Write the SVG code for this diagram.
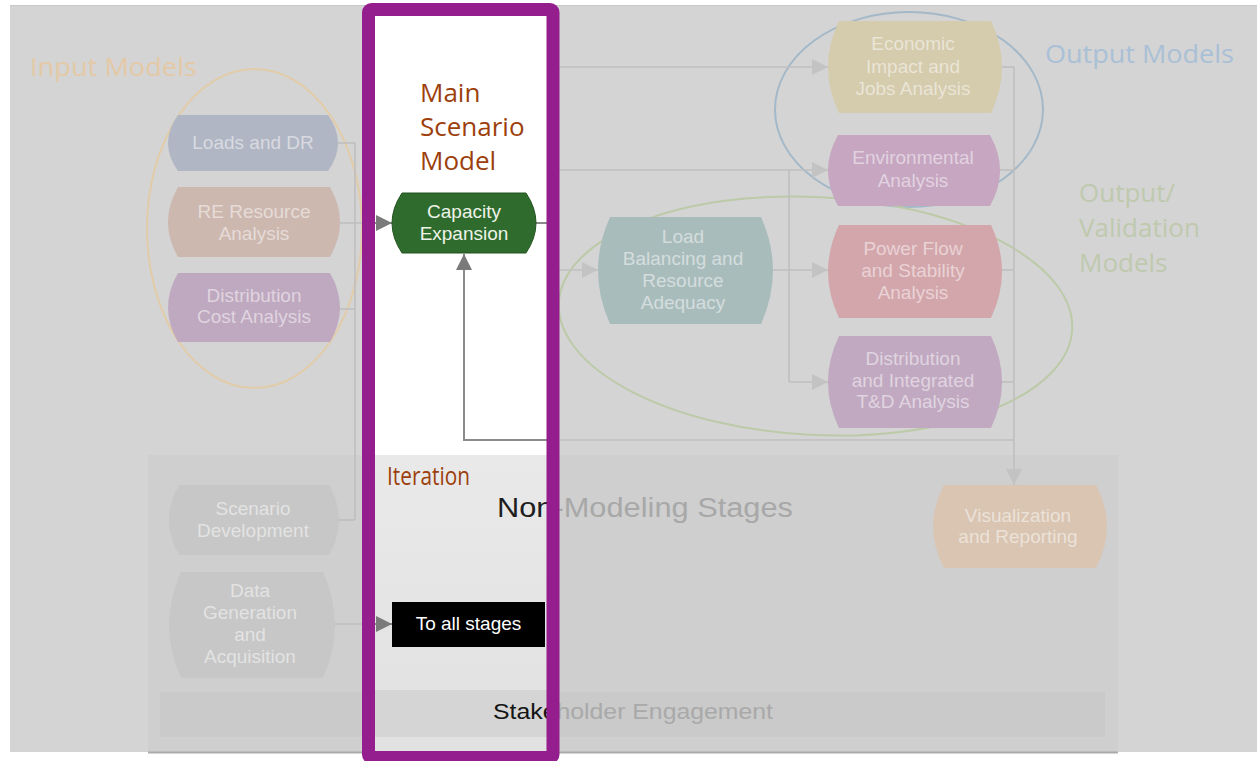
<svg xmlns="http://www.w3.org/2000/svg" width="1257" height="761" viewBox="0 0 1257 761">
<style>
.nt{font-family:"Liberation Sans",Arial,sans-serif;font-size:19px;text-anchor:middle}
.dimt{fill:#ffffff;fill-opacity:0.5}
.tt{font-family:"Open Sans","Noto Sans",sans-serif;font-size:26px}
.dl{fill:none;stroke:#bfbfbf;stroke-width:1.6}
.bl{fill:none;stroke:#8a8a8a;stroke-width:2}
.ell{fill:none;stroke-width:2}
.big{font-family:"Liberation Sans",Arial,sans-serif}
</style>
<defs>
<marker id="arr-dim" viewBox="0 0 16 16" refX="16" refY="8" markerWidth="16" markerHeight="16" markerUnits="userSpaceOnUse" orient="auto"><path d="M0,0 L16,8 L0,16 Z" fill="#c3c3c3"/></marker>
<marker id="arr-dark" viewBox="0 0 16 16" refX="16" refY="8" markerWidth="16" markerHeight="16" markerUnits="userSpaceOnUse" orient="auto"><path d="M0,0 L16,8 L0,16 Z" fill="#7a7a7a"/></marker>
<clipPath id="strip"><rect x="375" y="16" width="172" height="736"/></clipPath>
<linearGradient id="stripgray" x1="0" y1="0" x2="0" y2="1"><stop offset="0" stop-color="#e9e9e9"/><stop offset="1" stop-color="#e1e1e1"/></linearGradient>
</defs>

<!-- page and dimmed panel -->
<rect x="0" y="0" width="1257" height="761" fill="#ffffff"/>
<rect x="10" y="5" width="1247" height="747" fill="#d4d4d4"/>
<line x1="10" y1="5.5" x2="1257" y2="5.5" stroke="#c9c9c9" stroke-width="1"/>
<g id="non-modeling-panel">
<rect x="148" y="455" width="970" height="297" fill="#cfcfcf"/>
<rect x="160" y="692" width="945" height="45" fill="#cacaca"/>
<line x1="148" y1="752.5" x2="1118" y2="752.5" stroke="#ababab" stroke-width="2"/>
</g>

<!-- group ellipses -->
<g id="groups">
<ellipse cx="254.5" cy="228.5" rx="107.5" ry="159.5" class="ell" stroke="#e2cca8"/>
<ellipse cx="909" cy="109.5" rx="134" ry="97.5" class="ell" stroke="#a3b8c8"/>
<ellipse cx="815.5" cy="316" rx="257" ry="119" class="ell" stroke="#bccaa8" transform="rotate(3 815.5 316)"/>
</g>

<!-- dimmed connectors -->
<g id="connectors" class="dl">
<path d="M338,143 H355"/>
<path d="M340,223 H355"/>
<path d="M340,309 H355"/>
<path d="M339,520 H355"/>
<path d="M355,143 V520"/>
<path d="M355,223 H392" marker-end="url(#arr-dim)"/>
<path d="M536,223 H553"/>
<path d="M553,67 V270"/>
<path d="M553,67 H828" marker-end="url(#arr-dim)"/>
<path d="M553,170 H828" marker-end="url(#arr-dim)"/>
<path d="M789,170 V382"/>
<path d="M553,270 H598" marker-end="url(#arr-dim)"/>
<path d="M773,270 H828" marker-end="url(#arr-dim)"/>
<path d="M789,382 H828" marker-end="url(#arr-dim)"/>
<path d="M1002,67 H1014"/>
<path d="M1000,170 H1014"/>
<path d="M1002,270 H1014"/>
<path d="M1002,382 H1014"/>
<path d="M1014,67 V485" marker-end="url(#arr-dim)"/>
<path d="M1014,440 H464 V254" marker-end="url(#arr-dim)"/>
<path d="M335,624 H392" marker-end="url(#arr-dim)"/>
</g>

<!-- dimmed nodes -->
<g id="node-loads">
<path d="M178 115 H328 Q348 143 328 171 H178 Q158 143 178 115 Z" fill="#b1b6c4"/>
<text class="nt dimt" x="253" y="149">Loads and DR</text>
</g>
<g id="node-re">
<path d="M178 187 H330 Q350 222 330 257 H178 Q158 222 178 187 Z" fill="#cdb8b0"/>
<text class="nt dimt"><tspan x="254" y="218">RE Resource</tspan><tspan x="254" y="240">Analysis</tspan></text>
</g>
<g id="node-dist">
<path d="M178 273 H330 Q350 307.5 330 342 H178 Q158 307.5 178 273 Z" fill="#bfa9c0"/>
<text class="nt dimt"><tspan x="254" y="302">Distribution</tspan><tspan x="254" y="323">Cost Analysis</tspan></text>
</g>
<g id="node-loadbal">
<path d="M610 217 H761 Q785 270.5 761 324 H610 Q586 270.5 610 217 Z" fill="#a9bcbc"/>
<text class="nt dimt"><tspan x="683" y="243">Load</tspan><tspan x="683" y="265">Balancing and</tspan><tspan x="683" y="287">Resource</tspan><tspan x="683" y="309">Adequacy</tspan></text>
</g>
<g id="node-econ">
<path d="M839 21 H991 Q1013 67 991 113 H839 Q817 67 839 21 Z" fill="#d5cbad"/>
<text class="nt dimt"><tspan x="913" y="50">Economic</tspan><tspan x="913" y="73">Impact and</tspan><tspan x="913" y="95">Jobs Analysis</tspan></text>
</g>
<g id="node-env">
<path d="M838 135 H990 Q1010 170.5 990 206 H838 Q818 170.5 838 135 Z" fill="#c6a6c1"/>
<text class="nt dimt"><tspan x="913" y="164">Environmental</tspan><tspan x="913" y="187">Analysis</tspan></text>
</g>
<g id="node-power">
<path d="M839 225 H991 Q1013 271.5 991 318 H839 Q817 271.5 839 225 Z" fill="#d3a6ab"/>
<text class="nt dimt"><tspan x="913" y="255">Power Flow</tspan><tspan x="913" y="277">and Stability</tspan><tspan x="913" y="299">Analysis</tspan></text>
</g>
<g id="node-distint">
<path d="M839 336 H991 Q1013 382 991 428 H839 Q817 382 839 336 Z" fill="#c1a9c1"/>
<text class="nt dimt"><tspan x="913" y="365">Distribution</tspan><tspan x="913" y="387">and Integrated</tspan><tspan x="913" y="408">T&amp;D Analysis</tspan></text>
</g>
<g id="node-scen">
<path d="M179 485 H329 Q349 520 329 555 H179 Q159 520 179 485 Z" fill="#c7c7c7"/>
<text class="nt dimt" fill-opacity="0.4"><tspan x="253" y="515">Scenario</tspan><tspan x="253" y="537">Development</tspan></text>
</g>
<g id="node-datagen">
<path d="M181 572 H323 Q347 625 323 678 H181 Q157 625 181 572 Z" fill="#c7c7c7"/>
<text class="nt dimt" fill-opacity="0.4"><tspan x="250" y="597">Data</tspan><tspan x="250" y="619">Generation</tspan><tspan x="250" y="641">and</tspan><tspan x="250" y="663">Acquisition</tspan></text>
</g>
<g id="node-vis">
<path d="M944 485 H1096 Q1118 526.5 1096 568 H944 Q922 526.5 944 485 Z" fill="#d9c5b2"/>
<text class="nt dimt" fill-opacity="0.4"><tspan x="1018" y="522">Visualization</tspan><tspan x="1018" y="543">and Reporting</tspan></text>
</g>

<!-- dimmed labels -->
<g id="labels">
<text class="tt" x="30" y="76" fill="#e4c9a6" textLength="167" lengthAdjust="spacingAndGlyphs">Input Models</text>
<text class="tt" x="1045" y="63" fill="#a9c0d6" textLength="189" lengthAdjust="spacingAndGlyphs">Output Models</text>
<text class="tt" fill="#bfc9ae"><tspan x="1079" y="202">Output/</tspan><tspan x="1079" y="237">Validation</tspan><tspan x="1079" y="272">Models</tspan></text>
<text class="big" x="497" y="517" font-size="27" fill="#a8a8a8" textLength="296" lengthAdjust="spacingAndGlyphs">Non-Modeling Stages</text>
<text class="big" x="493" y="719" font-size="21.5" fill="#a9a9a9" textLength="280" lengthAdjust="spacingAndGlyphs">Stakeholder Engagement</text>
</g>

<!-- highlighted strip -->
<g id="highlight-strip">
<rect x="375" y="16" width="172" height="439" fill="#ffffff"/>
<rect x="375" y="455" width="172" height="297" fill="url(#stripgray)"/>
<rect x="375" y="690" width="172" height="47" fill="#d5d5d5"/>
</g>

<g id="connectors-focus" clip-path="url(#strip)" class="bl">
<path d="M355,223 H392" marker-end="url(#arr-dark)"/>
<path d="M536,223 H553"/>
<path d="M1014,440 H464 V254" marker-end="url(#arr-dark)"/>
<path d="M335,624 H392" marker-end="url(#arr-dark)"/>
</g>

<g id="node-capacity">
<path d="M402 193 H526 Q546 223 526 253 H402 Q382 223 402 193 Z" fill="#2f6b2c" stroke="#245522" stroke-width="1"/>
<text class="nt" fill="#eef3ea"><tspan x="464" y="218">Capacity</tspan><tspan x="464" y="240">Expansion</tspan></text>
</g>
<g id="node-toall">
<rect x="392" y="602" width="153" height="45" fill="#000000"/>
<text class="nt" x="468.5" y="630" fill="#ffffff">To all stages</text>
</g>

<g id="strip-labels">
<text class="tt" fill="#9c3f0c" font-size="25.5"><tspan x="420" y="102">Main</tspan><tspan x="420" y="136">Scenario</tspan><tspan x="420" y="170">Model</tspan></text>
<text class="tt" x="387" y="485" fill="#9c3f0c" font-size="17" textLength="83" lengthAdjust="spacingAndGlyphs">Iteration</text>
<g clip-path="url(#strip)">
<text class="big" x="497" y="517" font-size="27" fill="#1e1e1e" textLength="296" lengthAdjust="spacingAndGlyphs">Non-Modeling Stages</text>
<text class="big" x="493" y="719" font-size="21.5" fill="#141414" textLength="280" lengthAdjust="spacingAndGlyphs">Stakeholder Engagement</text>
</g>
</g>

<rect id="focus-frame" x="368.5" y="9.5" width="184.5" height="748" rx="3" fill="none" stroke="#941e8e" stroke-width="13"/>
</svg>
